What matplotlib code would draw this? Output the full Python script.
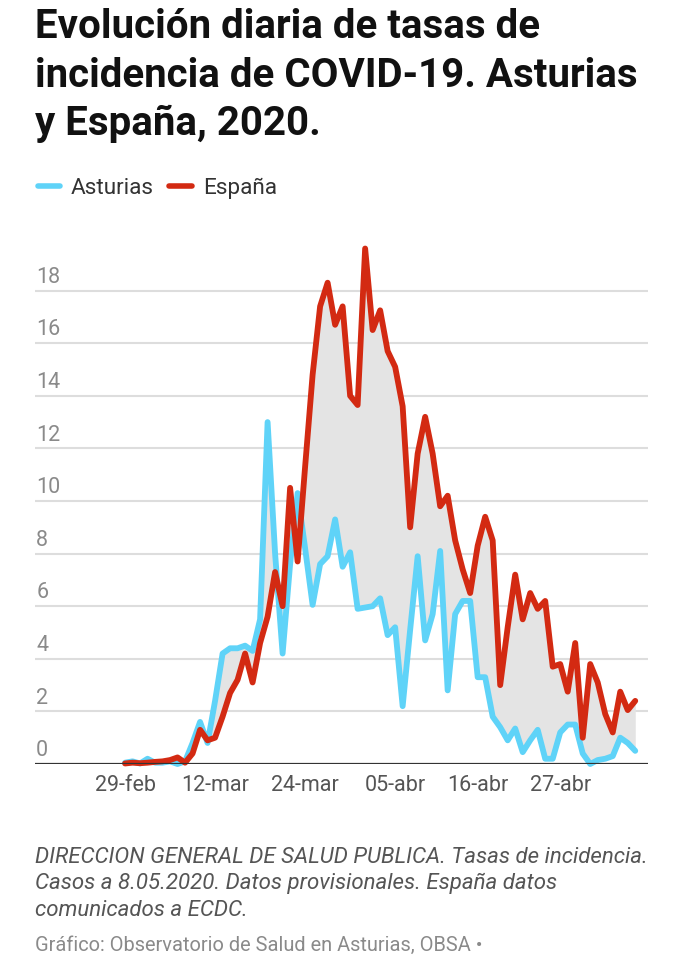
import matplotlib
matplotlib.use("Agg")
import matplotlib.pyplot as plt
from matplotlib.lines import Line2D
from matplotlib.transforms import blended_transform_factory
import pandas as pd

# Tasas diarias de incidencia (29-feb a 07-may 2020)
fechas = pd.date_range("2020-02-29", periods=69, freq="D")

asturias = [0.05, 0.1, 0.02, 0.2, 0.05, 0.05, 0.1, 0.0, 0.1, 0.8,
            1.6, 0.8, 2.4, 4.2, 4.4, 4.4, 4.5, 4.3, 5.5, 13.0,
            8.0, 4.2, 7.6, 10.3, 8.2, 6.05, 7.6, 7.9, 9.3, 7.5,
            8.05, 5.9, 5.95, 6.0, 6.3, 4.9, 5.2, 2.2, 5.1, 7.9,
            4.7, 5.7, 8.1, 2.8, 5.7, 6.2, 6.2, 3.3, 3.3, 1.8,
            1.4, 0.9, 1.35, 0.45, 0.9, 1.3, 0.2, 0.2, 1.2, 1.5,
            1.5, 0.4, 0.0, 0.15, 0.2, 0.3, 1.0, 0.8, 0.5]

espana = [0.02, 0.05, 0.03, 0.05, 0.08, 0.1, 0.15, 0.25, 0.05, 0.4,
          1.3, 0.9, 1.0, 1.8, 2.7, 3.2, 4.2, 3.1, 4.6, 5.6,
          7.3, 6.0, 10.5, 7.7, 11.3, 14.8, 17.4, 18.3, 16.7, 17.4,
          14.0, 13.65, 19.6, 16.5, 17.25, 15.7, 15.1, 13.6, 9.0, 11.8,
          13.2, 11.8, 9.8, 10.2, 8.5, 7.4, 6.5, 8.3, 9.4, 8.5,
          3.0, 5.2, 7.2, 5.5, 6.5, 5.9, 6.2, 3.7, 3.8, 2.75,
          4.6, 1.0, 3.8, 3.1, 1.9, 1.2, 2.75, 2.05, 2.4]

marcas_x = ["2020-02-29", "2020-03-12", "2020-03-24", "2020-04-05", "2020-04-16", "2020-04-27"]
etiquetas_x = ["29-feb", "12-mar", "24-mar", "05-abr", "16-abr", "27-abr"]
marcas_y = [0, 2, 4, 6, 8, 10, 12, 14, 16, 18]

AZUL = "#5fd3f8"
ROJO = "#d32a12"

plt.rcParams["font.family"] = ["Roboto", "DejaVu Sans"]

W, H = 686, 960
fig = plt.figure(figsize=(W / 100, H / 100), dpi=100)
fig.patch.set_facecolor("white")


def fx(px):
    return px / W


def fy(py):
    return 1 - py / H


# Titulo
titulo = ["Evolución diaria de tasas de",
          "incidencia de COVID-19. Asturias",
          "y España, 2020."]
for i, linea in enumerate(titulo):
    fig.text(fx(35), fy(38.5 + i * 48.3), linea, fontsize=29, fontweight="bold",
             color="#111111", va="baseline", ha="left")

# Leyenda
fig.add_artist(Line2D([fx(38), fx(60)], [fy(186), fy(186)], color=AZUL, lw=4,
                      solid_capstyle="round", transform=fig.transFigure))
fig.text(fx(71), fy(194), "Asturias", fontsize=16.2, color="#333333", va="baseline")
fig.add_artist(Line2D([fx(169), fx(192)], [fy(186), fy(186)], color=ROJO, lw=4,
                      solid_capstyle="round", transform=fig.transFigure))
fig.text(fx(203), fy(194), "España", fontsize=16.2, color="#333333", va="baseline")

# Grafico
ax = fig.add_axes([fx(35), fy(764), fx(648) - fx(35), fy(238) - fy(764)])
ax.set_facecolor("none")
inicio = pd.Timestamp("2020-02-29")
ax.set_xlim(inicio - pd.Timedelta(days=12), inicio + pd.Timedelta(days=69.7))
ax.set_ylim(0, 20)

for v in marcas_y[1:]:
    ax.axhline(v, color="#dddddd", lw=1.5, zorder=0)
ax.axhline(0, color="#333333", lw=1.6, zorder=5)

ax.fill_between(fechas, asturias, espana, color="#e4e4e4", lw=0, zorder=1)
ax.plot(fechas, asturias, color=AZUL, lw=4.2, solid_joinstyle="round",
        solid_capstyle="round", zorder=3, clip_on=False)
ax.plot(fechas, espana, color=ROJO, lw=4.2, solid_joinstyle="round",
        solid_capstyle="round", zorder=4, clip_on=False)

trans = blended_transform_factory(ax.transAxes, ax.transData)
for v in marcas_y:
    ax.text(0.002, v + 0.3, str(v), transform=trans, fontsize=15.5,
            color="#8a8a8a", va="baseline", ha="left")

ax.set_yticks([])
ax.set_xticks(pd.to_datetime(marcas_x))
ax.set_xticklabels(etiquetas_x)
ax.tick_params(axis="x", length=0, pad=8, labelsize=15.5, labelcolor="#555555")
for s in ax.spines.values():
    s.set_visible(False)

# Notas
notas = ["DIRECCION GENERAL DE SALUD PUBLICA. Tasas de incidencia.",
         "Casos a 8.05.2020. Datos provisionales. España datos",
         "comunicados a ECDC."]
for i, linea in enumerate(notas):
    fig.text(fx(35), fy(863 + i * 26.5), linea, fontsize=16, style="italic",
             color="#555555", va="baseline")
fig.text(fx(35), fy(951), "Gráfico: Observatorio de Salud en Asturias, OBSA •",
         fontsize=14.4, color="#8a8a8a", va="baseline")

fig.savefig("out.png", dpi=100)
